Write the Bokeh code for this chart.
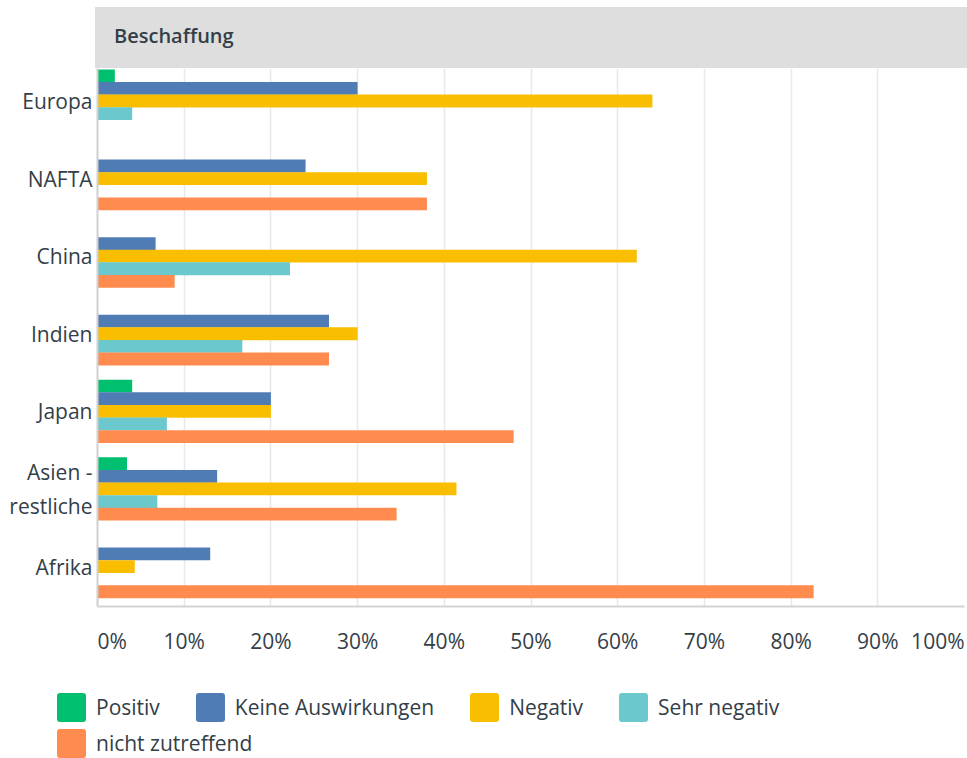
from bokeh.plotting import figure
from bokeh.models import (ColumnDataSource, Range1d, FixedTicker, Div)
from bokeh.layouts import column
from bokeh.transform import dodge
from bokeh.embed import file_html
from bokeh.resources import INLINE

# ---------------- data ----------------
title = "Beschaffung"
regions = ["Europa", "NAFTA", "China", "Indien", "Japan", "Asien -\nrestliche", "Afrika"]
series = ["Positiv", "Keine Auswirkungen", "Negativ", "Sehr negativ", "nicht zutreffend"]
positiv = [2.0, 0.0, 0.0, 0.0, 4.0, 3.4, 0.0]
keine_auswirkungen = [30.0, 24.0, 6.7, 26.7, 20.0, 13.8, 13.0]
negativ = [64.0, 38.0, 62.2, 30.0, 20.0, 41.4, 4.3]
sehr_negativ = [4.0, 0.0, 22.2, 16.7, 8.0, 6.9, 0.0]
nicht_zutreffend = [0.0, 38.0, 8.9, 26.7, 48.0, 34.5, 82.6]
tick_values = [0, 10, 20, 30, 40, 50, 60, 70, 80, 90, 100]
tick_labels = ["0%", "10%", "20%", "30%", "40%", "50%", "60%", "70%", "80%", "90%", "100%"]

colors = ["#00bf6f", "#507cb6", "#f9be00", "#6bc8cd", "#ff8b4f"]
FONT = "Open Sans"
TEXT = "#333e48"
FS = "21px"

# ---------------- layout constants ----------------
W = 967
LEFT, RIGHT = 97, 3           # main frame borders
FRAME_H = 538
BOTTOM = 20                   # main figure bottom border
MAIN_H = FRAME_H + BOTTOM
HEADER_TOP, HEADER_H = 7, 61
TICK_H = 34
LEGEND_H = 758 - HEADER_TOP - HEADER_H - MAIN_H - TICK_H

n = len(regions)
pos = [n - 1 - i for i in range(n)]  # first region on top
cols = ["positiv", "keine", "negativ", "sehr", "nicht"]
src = ColumnDataSource(dict(pos=pos, positiv=positiv, keine=keine_auswirkungen,
                            negativ=negativ, sehr=sehr_negativ, nicht=nicht_zutreffend))

p = figure(width=W, height=MAIN_H, x_range=Range1d(0, 100), y_range=Range1d(-0.515, 6.419),
           toolbar_location=None, output_backend="svg",
           min_border_left=LEFT, min_border_right=RIGHT, min_border_top=0,
           min_border_bottom=BOTTOM)
p.outline_line_color = None

step = 0.1624
for k, (c, col) in enumerate(zip(cols, colors)):
    p.hbar(y=dodge("pos", (2 - k) * step, range=None), left=0, right=c, height=step + 0.003,
           source=src, fill_color=col, line_color=None)

# axes (x tick labels are drawn in the strip below)
p.xaxis.ticker = FixedTicker(ticks=[])
p.xaxis.major_tick_line_color = None
p.xaxis.minor_tick_line_color = None
p.xaxis.axis_line_color = "#d3d3d3"
p.xaxis.axis_line_width = 2

p.yaxis.ticker = FixedTicker(ticks=pos)
p.yaxis.major_label_overrides = {pp: name for pp, name in zip(pos, regions)}
p.yaxis.major_tick_line_color = None
p.yaxis.minor_tick_line_color = None
p.yaxis.major_tick_out = 0
p.yaxis.major_label_standoff = 5
p.yaxis.axis_line_color = "#d0d0d0"
p.yaxis.axis_line_width = 2
p.yaxis.major_label_text_font = FONT
p.yaxis.major_label_text_font_size = FS
p.yaxis.major_label_text_color = TEXT

p.xgrid.ticker = FixedTicker(ticks=tick_values)
p.xgrid.grid_line_color = "#e9e9e9"
p.xgrid.grid_line_width = 1.6
p.ygrid.visible = False

# ---------------- tick label strip (same x scale as the chart) ----------------
q = figure(width=W, height=TICK_H, toolbar_location=None, output_backend="svg",
           x_range=Range1d(0, 100), y_range=Range1d(0, TICK_H),
           x_axis_location=None, y_axis_location=None,
           min_border_left=LEFT, min_border_right=RIGHT,
           min_border_top=0, min_border_bottom=0)
q.grid.visible = False
q.outline_line_color = None

aligns = ["left" if t == tick_values[0] else ("right" if t == tick_values[-1] else "center")
          for t in tick_values]
tsrc = ColumnDataSource(dict(x=tick_values, label=tick_labels, align=aligns,
                             y=[TICK_H - 14] * len(tick_values)))
q.text(x="x", y="y", text="label", text_align="align", text_baseline="middle",
       text_font={"value": FONT}, text_font_size=FS, text_color=TEXT, source=tsrc)

# ---------------- legend (HTML) ----------------
def legend_row(names, cols_):
    items = "".join(
        f'<span style="display:inline-flex;align-items:center;margin-right:36px">'
        f'<span style="display:inline-block;width:29px;height:29px;border-radius:3px;'
        f'background:{c};margin-right:10px"></span>{s}</span>'
        for s, c in zip(names, cols_))
    return f'<div style="display:flex;align-items:center;height:36px">{items}</div>'


legend_html = (f'<div style="font-family:\'{FONT}\';font-size:{FS};color:{TEXT};'
               f'padding-left:57px;padding-top:29px;white-space:nowrap">'
               + legend_row(series[:4], colors[:4]) + legend_row(series[4:], colors[4:])
               + '</div>')
legend = Div(text=legend_html, width=W, height=LEGEND_H, margin=(0, 0, 0, 0))

header = Div(text=(f'<div style="font-family:\'{FONT}\';font-weight:600;font-size:20px;'
                   f'color:{TEXT};padding-left:19px;line-height:57px;white-space:nowrap">{title}</div>'),
             width=W - 95, height=HEADER_H, margin=(HEADER_TOP, 0, 0, 95),
             styles={"background-color": "#dedede"})

layout = column(header, p, q, legend, spacing=0)
open("out.html", "w").write(file_html(layout, INLINE))
